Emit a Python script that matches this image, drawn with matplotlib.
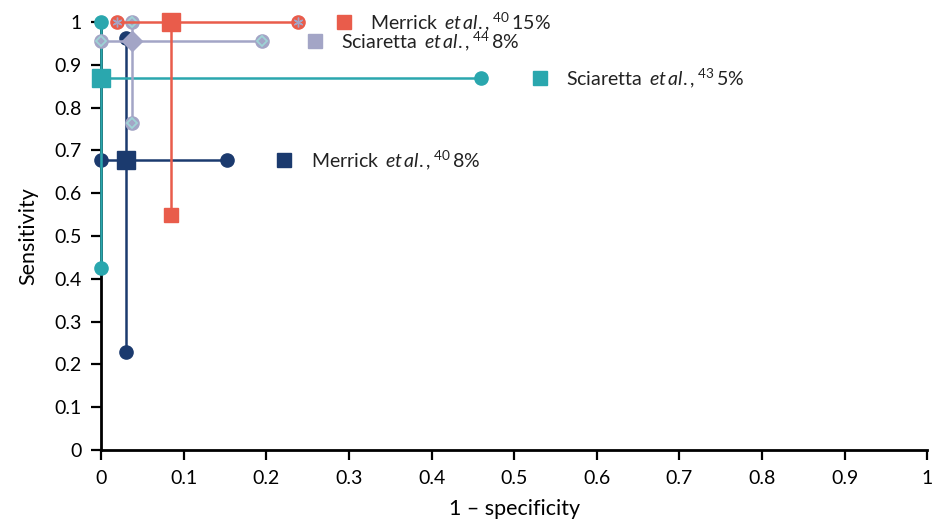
import matplotlib
matplotlib.use("Agg")
import matplotlib.pyplot as plt

plt.rcParams['font.family'] = ['Lato', 'DejaVu Sans']
plt.rcParams['mathtext.fontset'] = 'custom'
plt.rcParams['mathtext.rm'] = 'Lato'
plt.rcParams['mathtext.it'] = 'Lato:italic'

# point estimates and 95% CI per study (1 - specificity, sensitivity)
studies = ['Merrick', 'Sciaretta', 'Sciaretta', 'Merrick']
refs = ['40', '44', '43', '40']
prevalence = ['15', '8', '5', '8']
fpr = [0.085, 0.038, 0.0, 0.030]
fpr_lo = [0.019, 0.0, 0.0, 0.0]
fpr_hi = [0.239, 0.195, 0.46, 0.153]
sens = [1.0, 0.956, 0.869, 0.677]
sens_lo = [0.55, 0.763, 0.425, 0.23]
sens_hi = [1.0, 1.0, 1.0, 0.963]

colors = ['#E95C4B', '#A3A5C6', '#2AA7AE', '#1B3A6E']
ticks = [0, 0.1, 0.2, 0.3, 0.4, 0.5, 0.6, 0.7, 0.8, 0.9, 1]
tick_labels = ['0', '0.1', '0.2', '0.3', '0.4', '0.5', '0.6', '0.7', '0.8', '0.9', '1']

fig = plt.figure(figsize=(9.34, 5.24), dpi=100)
ax = fig.add_axes([0.108, 0.141, 0.885, 0.817])

# drawing order: navy, teal, lavender, red
order = [3, 2, 1, 0]
label_gap = [0.055, 0.064, 0.071, 0.069]
for z, i in enumerate(order):
    c = colors[i]
    zo = 3 + z * 3
    ax.plot([fpr_lo[i], fpr_hi[i]], [sens[i], sens[i]], color=c, lw=1.8, zorder=zo, clip_on=False)
    ax.plot([fpr[i], fpr[i]], [sens_lo[i], sens_hi[i]], color=c, lw=1.8, zorder=zo, clip_on=False)
    ends_x = [fpr_lo[i], fpr_hi[i], fpr[i], fpr[i]]
    ends_y = [sens[i], sens[i], sens_lo[i], sens_hi[i]]
    if i == 0:
        # red study: circles with asterisk on CI ends, small square at bottom
        ax.plot(ends_x[:2] + ends_x[3:], ends_y[:2] + ends_y[3:], 'o', ms=9.5, color=c,
                zorder=zo + 1, clip_on=False)
        ax.plot(ends_x[:2], ends_y[:2], marker=(6, 2, 0), ls='none', ms=7, mew=1,
                color='#A3A5C6', zorder=zo + 1, clip_on=False)
        ax.plot(ends_x[2], ends_y[2], 's', ms=10, color=c, zorder=zo + 1, clip_on=False)
        ax.plot(fpr[i], sens[i], 's', ms=13, color=c, zorder=zo + 2, clip_on=False)
    elif i == 1:
        ax.plot(ends_x, ends_y, 'o', ms=9.5, color=c, zorder=zo + 1, clip_on=False)
        ax.plot(ends_x, ends_y, 'D', ms=5, mfc=c, mec='#9ED3D6', mew=1.3,
                zorder=zo + 1, clip_on=False)
        ax.plot(fpr[i], sens[i], 'D', ms=10.5, color=c, zorder=zo + 2, clip_on=False)
    else:
        ax.plot(ends_x, ends_y, 'o', ms=9.5, color=c, zorder=zo + 1, clip_on=False)
        ax.plot(fpr[i], sens[i], 's', ms=13, color=c, zorder=zo + 2, clip_on=False)

    # study label with square key
    lx = fpr_hi[i] + label_gap[i]
    ax.plot(lx, sens[i], 's', ms=10, color=c, clip_on=False, zorder=20)
    txt = (r'$\mathrm{' + studies[i] + r'}\ \,\mathit{et\,al}\mathrm{.,}^{' + refs[i]
           + r'}\,\mathrm{' + prevalence[i] + r'\%}$')
    ax.text(lx + 0.032, sens[i], txt, fontsize=14, va='center', ha='left', color='#222222')

ax.set_xlim(0, 1)
ax.set_ylim(0, 1)
ax.set_xticks(ticks)
ax.set_xticklabels(tick_labels)
ax.set_yticks(ticks)
ax.set_yticklabels(tick_labels)
ax.tick_params(labelsize=14, length=7, width=1.6, pad=7, colors='black')
for s in ['top', 'right']:
    ax.spines[s].set_visible(False)
for s in ['left', 'bottom']:
    ax.spines[s].set_linewidth(2)
ax.set_xlabel('1 – specificity', fontsize=15.5, labelpad=9)
ax.set_ylabel('Sensitivity', fontsize=15.5, labelpad=11)

fig.savefig('out.png', dpi=100)
